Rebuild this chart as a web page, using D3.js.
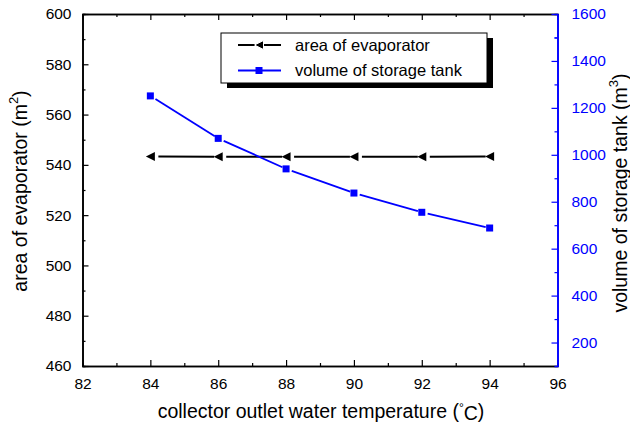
<!DOCTYPE html>
<html>
<head>
<meta charset="utf-8">
<script src="https://cdn.jsdelivr.net/npm/d3@7"></script>
<style>
  body { margin: 0; background: #fff; }
  text { font-family: "Liberation Sans", Arial, sans-serif; }
</style>
</head>
<body>
<div id="chart"></div>
<script>
// data
const temps = [84, 86, 88, 90, 92, 94];
const evapArea = [543.3, 543.2, 543.2, 543.2, 543.2, 543.3];
const tankVolume = [1251, 1070, 940, 837, 755, 688];

const xTicks = [82, 84, 86, 88, 90, 92, 94, 96];
const leftTicks = [460, 480, 500, 520, 540, 560, 580, 600];
const rightTicks = [200, 400, 600, 800, 1000, 1200, 1400, 1600];

const W = 630, H = 425;
const L = 82.5, R = 557.5, T = 14, B = 366;
const blue = "#0000ff";

const svg = d3.select("#chart").append("svg")
  .attr("width", W)
  .attr("height", H);

const x = d3.scaleLinear().domain([82, 96]).range([L, R]);
const yL = d3.scaleLinear().domain([460, 600]).range([B, T]);
const yR = d3.scaleLinear().domain([100, 1600]).range([B, T]);

// minor ticks halfway between majors
function minors(ticks) {
  const m = [];
  for (let i = 0; i < ticks.length - 1; i++) m.push((ticks[i] + ticks[i + 1]) / 2);
  return m;
}

// bottom axis
const gB = svg.append("g").attr("transform", "translate(0," + B + ")");
gB.call(d3.axisBottom(x).tickValues(xTicks).tickSizeInner(-6).tickSizeOuter(0).tickPadding(12));
gB.append("g").call(d3.axisBottom(x).tickValues(minors(xTicks)).tickSize(-3).tickFormat(""));
// top axis
const gT = svg.append("g").attr("transform", "translate(0," + T + ")");
gT.call(d3.axisTop(x).tickValues(xTicks).tickSizeInner(-6).tickSizeOuter(0).tickFormat(""));
gT.append("g").call(d3.axisTop(x).tickValues(minors(xTicks)).tickSize(-3).tickFormat(""));
// left axis
const gL = svg.append("g").attr("transform", "translate(" + L + ",0)");
gL.call(d3.axisLeft(yL).tickValues(leftTicks).tickSizeInner(-6).tickSizeOuter(0).tickPadding(11));
gL.append("g").call(d3.axisLeft(yL).tickValues(minors(leftTicks)).tickSize(-3).tickFormat(""));
// right axis (blue)
const gR = svg.append("g").attr("transform", "translate(" + R + ",0)");
gR.call(d3.axisRight(yR).tickValues(rightTicks).tickFormat(d3.format("d"))
  .tickSizeInner(-6).tickSizeOuter(0).tickPadding(14));
gR.append("g").call(d3.axisRight(yR).tickValues(minors(rightTicks).concat([1500])).tickSize(-3).tickFormat(""));

svg.selectAll(".domain").attr("stroke-width", 1.6);
svg.selectAll(".tick line").attr("stroke-width", 1.2);
svg.selectAll(".tick text").attr("font-size", 15.5).attr("fill", "#000");
gR.selectAll(".domain, .tick line").attr("stroke", blue);
gR.selectAll(".tick text").attr("fill", blue);

// segments with a small gap after each marker
function segs(ys, scale, gap) {
  const out = [];
  for (let i = 0; i < temps.length - 1; i++) {
    const x1 = x(temps[i]), y1 = scale(ys[i]);
    const x2 = x(temps[i + 1]), y2 = scale(ys[i + 1]);
    const len = Math.hypot(x2 - x1, y2 - y1);
    const ux = (x2 - x1) / len, uy = (y2 - y1) / len;
    out.push({ x1: x1 + ux * gap[0], y1: y1 + uy * gap[0], x2: x2 - ux * gap[1], y2: y2 - uy * gap[1] });
  }
  return out;
}

// black series: area of evaporator
svg.append("g").selectAll("line")
  .data(segs(evapArea, yL, [8, 4]))
  .join("line")
  .attr("x1", d => d.x1).attr("y1", d => d.y1)
  .attr("x2", d => d.x2).attr("y2", d => d.y2)
  .attr("stroke", "#000").attr("stroke-width", 2);

const tri = "M-4.5,0L4.5,-4.5L4.5,4.5Z";
svg.append("g").selectAll("path")
  .data(temps)
  .join("path")
  .attr("d", tri)
  .attr("transform", (d, i) => "translate(" + x(d) + "," + yL(evapArea[i]) + ")")
  .attr("fill", "#000");

// blue series: volume of storage tank
svg.append("g").selectAll("line")
  .data(segs(tankVolume, yR, [6, 4]))
  .join("line")
  .attr("x1", d => d.x1).attr("y1", d => d.y1)
  .attr("x2", d => d.x2).attr("y2", d => d.y2)
  .attr("stroke", blue).attr("stroke-width", 1.8);

svg.append("g").selectAll("rect")
  .data(temps)
  .join("rect")
  .attr("x", d => x(d) - 3.5)
  .attr("y", (d, i) => yR(tankVolume[i]) - 3.5)
  .attr("width", 7).attr("height", 7)
  .attr("fill", blue);

// legend
const lg = svg.append("g");
lg.append("rect").attr("x", 227).attr("y", 38).attr("width", 266).attr("height", 50).attr("fill", "#000");
lg.append("rect").attr("x", 221).attr("y", 33).attr("width", 266).attr("height", 50)
  .attr("fill", "#fff").attr("stroke", "#000").attr("stroke-width", 1);
lg.append("line").attr("x1", 238).attr("x2", 281).attr("y1", 45).attr("y2", 45).attr("stroke", "#000").attr("stroke-width", 2);
lg.append("path").attr("d", tri).attr("transform", "translate(259,45)").attr("fill", "#000").attr("stroke", "#fff").attr("stroke-width", 1);
lg.append("line").attr("x1", 238).attr("x2", 281).attr("y1", 70.5).attr("y2", 70.5).attr("stroke", blue).attr("stroke-width", 1.8);
lg.append("rect").attr("x", 255.5).attr("y", 67).attr("width", 7).attr("height", 7).attr("fill", blue);
lg.append("text").attr("x", 295).attr("y", 50.5).attr("font-size", 16.5).text("area of evaporator");
lg.append("text").attr("x", 295).attr("y", 76).attr("font-size", 16.5).text("volume of storage tank");

// axis titles
svg.append("text")
  .attr("x", 321).attr("y", 418)
  .attr("text-anchor", "middle").attr("font-size", 19.5)
  .call(t => {
    t.append("tspan").text("collector outlet water temperature (");
    t.append("tspan").attr("font-size", 12).attr("dy", -6).text("°");
    t.append("tspan").attr("dy", 8).text("C");
    t.append("tspan").attr("dy", -2).text(")");
  });

svg.append("text")
  .attr("transform", "translate(27,191) rotate(-90)")
  .attr("text-anchor", "middle").attr("font-size", 19.5)
  .call(t => {
    t.append("tspan").text("area of evaporator (m");
    t.append("tspan").attr("font-size", 13).attr("dy", -9).text("2");
    t.append("tspan").attr("dy", 9).text(")");
  });

svg.append("text")
  .attr("transform", "translate(627,193) rotate(-90)")
  .attr("text-anchor", "middle").attr("font-size", 19.5)
  .call(t => {
    t.append("tspan").text("volume of storage tank (m");
    t.append("tspan").attr("font-size", 13).attr("dy", -9).text("3");
    t.append("tspan").attr("dy", 9).text(")");
  });
</script>
</body>
</html>
